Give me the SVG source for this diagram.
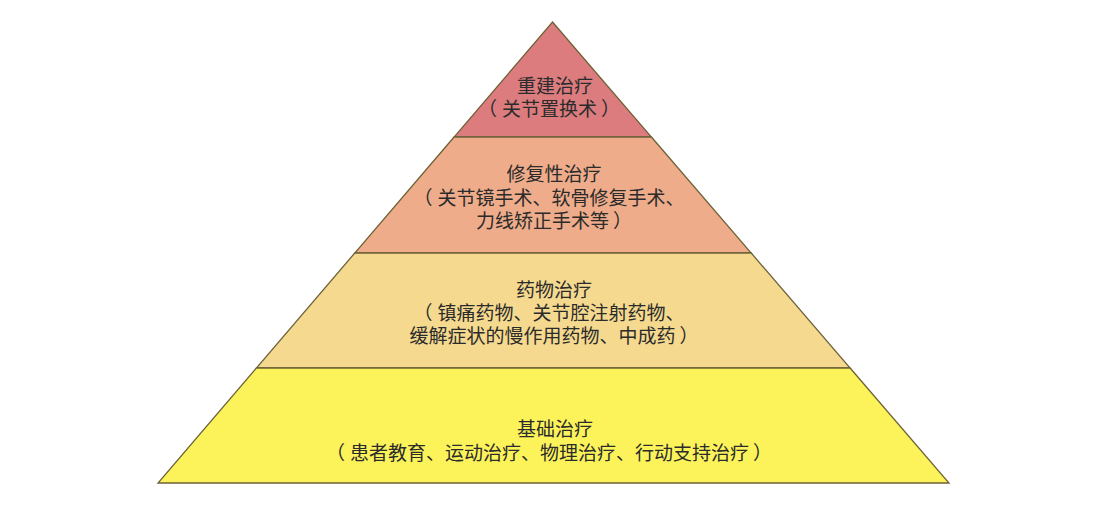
<svg xmlns="http://www.w3.org/2000/svg" width="1109" height="518" viewBox="0 0 1109 518">
<style>
.layer{stroke:#6e6238;stroke-width:1.3;stroke-linejoin:miter}
.t{font-family:"Noto Sans CJK SC","Noto Sans",sans-serif;font-size:19px;fill:#2b2b2b;text-anchor:middle;dominant-baseline:central}
</style>
<rect width="1109" height="518" fill="#ffffff"/>
<g id="level1">
<polygon class="layer" points="552.5,22 651.4,137 454.1,137" fill="#DC7C7E"/>
<text class="t" x="555" y="84">重建治疗</text>
<text class="t" x="554" y="107"><tspan dx="-5">（</tspan><tspan dx="5">关节置换术</tspan><tspan dx="4">）</tspan></text>
</g>
<g id="level2">
<polygon class="layer" points="454.1,137 651.4,137 751.2,253 354.8,253" fill="#EEAC8A"/>
<text class="t" x="554" y="172">修复性治疗</text>
<text class="t" x="554" y="196"><tspan dx="-5">（</tspan><tspan dx="5">关节镜手术、软骨修复手术、</tspan></text>
<text class="t" x="554" y="219">力线矫正手术等<tspan dx="4">）</tspan></text>
</g>
<g id="level3">
<polygon class="layer" points="354.8,253 751.2,253 850.1,368 256.4,368" fill="#F5D98F"/>
<text class="t" x="554" y="288">药物治疗</text>
<text class="t" x="554" y="311"><tspan dx="-5">（</tspan><tspan dx="5">镇痛药物、关节腔注射药物、</tspan></text>
<text class="t" x="554" y="334">缓解症状的慢作用药物、中成药<tspan dx="4">）</tspan></text>
</g>
<g id="level4">
<polygon class="layer" points="256.4,368 850.1,368 949,483 158,483" fill="#FCF35B"/>
<text class="t" x="555" y="427">基础治疗</text>
<text class="t" x="554" y="451"><tspan dx="-5">（</tspan><tspan dx="5">患者教育、运动治疗、物理治疗、行动支持治疗</tspan><tspan dx="4">）</tspan></text>
</g>
<g id="connectors"></g>
</svg>
